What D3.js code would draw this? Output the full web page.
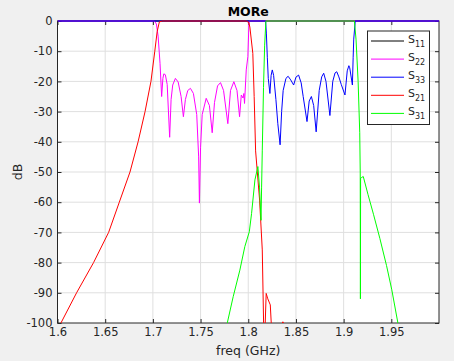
<!DOCTYPE html>

<head>
  <meta charset="utf-8">
  <script src="https://d3js.org/d3.v7.min.js"></script>

  <style>
    body {
      margin: 0;
      background: #f0f0f0;
    }

    svg {
      display: block;
    }

    text {
      font-family: "DejaVu Sans", sans-serif;
      fill: #262626;
    }
  </style>
</head>

<body>
  <svg width="454" height="361"></svg>
  <script>
    // tick values
    var xTicks = [1.6, 1.65, 1.7, 1.75, 1.8, 1.85, 1.9, 1.95];
    var yTicks = [0, -10, -20, -30, -40, -50, -60, -70, -80, -90, -100];

    // [freq GHz, dB]
    // S11 stays at 0 dB, hidden under the other traces
    var s11 = [[1.6, 0], [2.0, 0]];

    var s22 = [[1.6, 0], [1.7016, 0], [1.7037, -1], [1.7055, -5], [1.7075, -14], [1.7092, -25], [1.7105, -19],
      [1.7115, -17.5], [1.7131, -17.8], [1.7150, -21], [1.7176, -38.5], [1.7191, -26], [1.7208, -21.2],
      [1.7236, -19], [1.7265, -20.2], [1.7296, -25], [1.7320, -31.7], [1.7341, -26], [1.7366, -23],
      [1.7394, -22.3], [1.7425, -24], [1.7460, -31], [1.7480, -45], [1.7488, -60.3], [1.7500, -42],
      [1.7517, -31], [1.7559, -25.6], [1.7593, -28], [1.7622, -37], [1.7646, -27], [1.7678, -21.5],
      [1.7709, -20.4], [1.7741, -23], [1.7786, -34], [1.7814, -23], [1.7849, -20.1], [1.7882, -23],
      [1.7909, -31.7], [1.7927, -24.5], [1.7945, -25.5], [1.7954, -24], [1.7961, -27.3], [1.7979, -16.2],
      [1.7996, -11.8], [1.8008, 0], [2.0, 0]];

    var s33 = [[1.6, 0], [1.8182, 0], [1.8190, -4], [1.8200, -12], [1.8210, -19], [1.8227, -24], [1.8240, -18],
      [1.8252, -16.2], [1.8266, -18], [1.8290, -26], [1.8310, -34], [1.8334, -41], [1.8350, -30],
      [1.8366, -23], [1.8395, -19], [1.8418, -18.3], [1.8445, -19.5], [1.8476, -21.2], [1.8500, -18.6],
      [1.8528, -17.9], [1.8555, -20.5], [1.8576, -25], [1.8616, -33.3], [1.8639, -26.5], [1.8662, -25],
      [1.8686, -28], [1.8712, -36.7], [1.8744, -23], [1.8770, -18.5], [1.8791, -17.3], [1.8815, -20],
      [1.8856, -31.3], [1.8886, -20], [1.8910, -17.2], [1.8928, -16.8], [1.8950, -18.5], [1.8975, -21],
      [1.9014, -24.5], [1.9038, -16.5], [1.9055, -14.8], [1.9064, -15.5], [1.9092, -21.2], [1.9100, -12],
      [1.9106, -6], [1.9122, 0], [2.0, 0]];

    var s21 = [[1.6, -102.5], [1.6036, -100], [1.620, -90], [1.6378, -80], [1.6536, -70], [1.6648, -60],
      [1.676, -50], [1.6845, -40], [1.6918, -30], [1.698, -20], [1.702, -10], [1.7045, -3.5],
      [1.7068, -0.3], [1.710, 0], [1.798, 0], [1.8005, -0.5], [1.8017, -2], [1.8048, -10.7], [1.8062, -25],
      [1.8077, -43], [1.8119, -59.3], [1.8147, -75.8], [1.8161, -100], [1.8168, -108], [1.8178, -100],
      [1.8188, -90.2], [1.8205, -92], [1.8231, -94], [1.8241, -100], [1.826, -110], [1.834, -104],
      [1.8350, -100.5], [1.8363, -99.6], [1.8378, -100.5], [1.839, -104], [1.86, -118], [2.0, -130]];

    var s31 = [[1.77, -110], [1.778, -100], [1.7842, -91.3], [1.7912, -82.5], [1.7964, -74.7], [1.8011, -69.8],
      [1.8035, -63.7], [1.807, -52.6], [1.8101, -48.2], [1.8118, -55], [1.8134, -66], [1.8140, -55],
      [1.8147, -43], [1.8160, -22], [1.8172, -8], [1.8185, 0], [1.9113, 0], [1.9130, -6], [1.9152, -20],
      [1.9169, -37], [1.9174, -50], [1.9176, -92], [1.9178, -52], [1.9190, -51.8], [1.9206, -51.5],
      [1.9256, -57.5], [1.9313, -64], [1.9380, -72], [1.9450, -81], [1.9505, -89], [1.9569, -100],
      [1.96, -105], [2.0, -140]];

    var names = ["11", "22", "33", "21", "31"];
    var colors = ["#000000", "#ff00ff", "#0000ff", "#ff0000", "#00ff00"];
    var series = [s11, s22, s33, s21, s31];

    var width = 454;
    var height = 361;
    var margin = { top: 21, right: 15, bottom: 38, left: 57.5 };
    var x0 = margin.left, x1 = width - margin.right;
    var y0 = height - margin.bottom, y1 = margin.top;

    var xScale = d3.scaleLinear().domain([1.6, 2.0]).range([x0, x1]);
    var yScale = d3.scaleLinear().domain([-100, 0]).range([y0, y1]);

    var svg = d3.select('svg');

    svg.append('rect')
      .attr('x', x0).attr('y', y1)
      .attr('width', x1 - x0).attr('height', y0 - y1)
      .attr('fill', 'white');

    // grid
    svg.append('g').selectAll('line')
      .data(xTicks.slice(1))
      .enter().append('line')
      .attr('x1', d => xScale(d)).attr('x2', d => xScale(d))
      .attr('y1', y1).attr('y2', y0)
      .attr('stroke', '#dfdfdf').attr('stroke-width', 1);
    svg.append('g').selectAll('line')
      .data(yTicks.slice(1, -1))
      .enter().append('line')
      .attr('y1', d => yScale(d)).attr('y2', d => yScale(d))
      .attr('x1', x0).attr('x2', x1)
      .attr('stroke', '#dfdfdf').attr('stroke-width', 1);

    // axes
    var xAxis = d3.axisBottom(xScale)
      .tickValues(xTicks)
      .tickFormat(d => String(+d.toFixed(2)))
      .tickSizeInner(-4).tickSizeOuter(0).tickPadding(5);
    var yAxis = d3.axisLeft(yScale)
      .tickValues(yTicks)
      .tickFormat(d => String(d))
      .tickSizeInner(-4).tickSizeOuter(0).tickPadding(5);

    function styleAxis(g) {
      g.select('.domain').remove();
      g.selectAll('line').attr('stroke', '#262626');
      g.selectAll('text').attr('fill', '#262626')
        .style('font-size', '11.5px').style('font-family', '"DejaVu Sans", sans-serif');
    }

    svg.append('g')
      .attr('transform', 'translate(' + [0, y0] + ')')
      .call(xAxis).call(styleAxis);
    svg.append('g')
      .attr('transform', 'translate(' + [x0, 0] + ')')
      .call(yAxis).call(styleAxis);
    svg.append('g')
      .attr('transform', 'translate(' + [0, y1] + ')')
      .call(d3.axisTop(xScale).tickValues(xTicks).tickFormat('').tickSizeInner(-4).tickSizeOuter(0))
      .call(styleAxis);
    svg.append('g')
      .attr('transform', 'translate(' + [x1, 0] + ')')
      .call(d3.axisRight(yScale).tickValues(yTicks).tickFormat('').tickSizeInner(-4).tickSizeOuter(0))
      .call(styleAxis);

    svg.append('rect')
      .attr('x', x0).attr('y', y1)
      .attr('width', x1 - x0).attr('height', y0 - y1)
      .attr('fill', 'none')
      .attr('stroke', '#262626').attr('stroke-width', 1);

    // traces go over the box, like the reference
    svg.append('clipPath').attr('id', 'clip')
      .append('rect')
      .attr('x', x0).attr('y', y1 - 1)
      .attr('width', x1 - x0).attr('height', y0 - y1 + 1);

    var line = d3.line()
      .x(d => xScale(d[0]))
      .y(d => yScale(d[1]));

    svg.append('g').attr('clip-path', 'url(#clip)')
      .selectAll('path')
      .data(series)
      .enter().append('path')
      .attr('d', line)
      .attr('fill', 'none')
      .attr('stroke', (d, i) => colors[i])
      .attr('stroke-width', 1);

    // labels
    svg.append('text')
      .attr('x', (x0 + x1) / 2).attr('y', 16)
      .attr('text-anchor', 'middle')
      .style('font-size', '12.5px').style('font-weight', 'bold')
      .style('fill', '#000')
      .text('MORe');

    svg.append('text')
      .attr('x', (x0 + x1) / 2).attr('y', 355)
      .attr('text-anchor', 'middle')
      .style('font-size', '12.5px')
      .text('freq (GHz)');

    svg.append('text')
      .attr('transform', 'translate(22,' + (y0 + y1) / 2 + ') rotate(-90)')
      .attr('text-anchor', 'middle')
      .style('font-size', '12.5px')
      .text('dB');

    // legend
    var legend = svg.append('g');
    legend.append('rect')
      .attr('x', 367.5).attr('y', 31)
      .attr('width', 62).attr('height', 93.5)
      .attr('fill', 'white')
      .attr('stroke', '#262626').attr('stroke-width', 1);

    var rows = legend.selectAll('g.row')
      .data(names)
      .enter().append('g')
      .attr('class', 'row')
      .attr('transform', (d, i) => 'translate(0,' + (41 + i * 18.1) + ')');
    rows.append('line')
      .attr('x1', 371).attr('x2', 404)
      .attr('stroke', (d, i) => colors[i]).attr('stroke-width', 1);
    var lt = rows.append('text')
      .attr('x', 408).attr('y', 1.5)
      .style('font-size', '11px');
    lt.append('tspan').text('S');
    lt.append('tspan').attr('dy', 4).style('font-size', '8px').text(d => d);
  </script>
</body>
